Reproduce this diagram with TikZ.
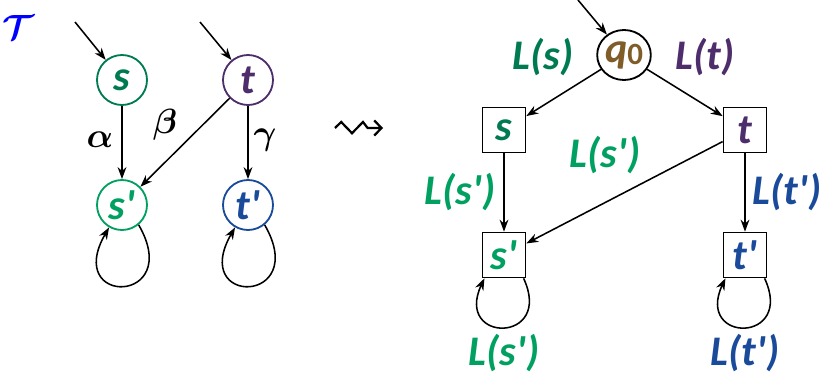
\documentclass[tikz,border=0pt]{standalone}
\usepackage{amsmath}
\usepackage{amssymb}
\usepackage{fontspec}
\setsansfont{Carlito}
\usepackage{xcolor}
\definecolor{sgreen}{RGB}{0,122,80}
\definecolor{spgreen}{RGB}{0,160,96}
\definecolor{tpurple}{RGB}{77,45,107}
\definecolor{tpblue}{RGB}{26,74,154}
\definecolor{qbrown}{RGB}{128,92,40}
\definecolor{tblue}{RGB}{0,0,255}
\usepackage{tikz}
\usetikzlibrary{arrows.meta}
\usetikzlibrary{shapes.geometric}

\newcommand{\pr}{\textquotesingle}
\tikzset{
  lbl/.style={font=\sffamily\bfseries\itshape\fontsize{30}{32}\selectfont},
  greek/.style={font=\fontsize{30}{32}\selectfont},
  state/.style={circle,draw,line width=1.3pt,minimum size=1.25cm,inner sep=0pt,lbl},
  box/.style={rectangle,draw,line width=1.2pt,minimum width=1.075cm,minimum height=1.125cm,inner sep=0pt,lbl},
  trans/.style={-{Stealth[length=3mm,width=2.2mm]},line width=1.1pt},
}

\begin{document}
\begin{tikzpicture}
        \useasboundingbox (0cm,0cm) rectangle (21cm,-9.35cm);
        \node[greek,text=tblue,font=\fontsize{34}{34}\selectfont] (T) at (0.45cm,-0.7cm) {\(\boldsymbol{\mathcal{T}}\)};
        \node[state,draw=sgreen,text=sgreen] (s) at (3.05cm,-2cm) {s};
        \node[state,draw=tpurple,text=tpurple] (t) at (6.2cm,-2cm) {t};
        \node[state,draw=spgreen,text=spgreen] (sp) at (3.05cm,-5.125cm) {s\pr};
        \node[state,draw=tpblue,text=tpblue] (tp) at (6.2cm,-5.125cm) {t\pr};
        \coordinate (s0) at (1.875cm,-0.55cm);
        \coordinate (t0) at (5cm,-0.55cm);
        \draw[trans] (s0) -- (s);
        \draw[trans] (t0) -- (t);
        \draw[trans] (s) -- (sp);
        \draw[trans] (t) -- (sp);
        \draw[trans] (t) -- (tp);
        \foreach \n in {sp,tp}
          \draw[trans] (\n.-50) .. controls +(-60:2.3cm) and +(-120:2.3cm) .. (\n.-120);
        \node[greek] (alpha) at (2.5cm,-3.5cm) {\(\boldsymbol{\alpha}\)};
        \node[greek] (beta) at (4.125cm,-3.125cm) {\(\boldsymbol{\beta}\)};
        \node[greek] (gamma) at (6.625cm,-3.5cm) {\(\boldsymbol{\gamma}\)};
        \draw[line width=1.6pt,line join=miter,-{Straight Barb[length=1.8mm,width=3.8mm]}]
          (8.375cm,-3.2cm) -- (8.53cm,-3.05cm) -- (8.8cm,-3.33cm) -- (9.075cm,-3.05cm) -- (9.19cm,-3.2cm) -- (9.575cm,-3.2cm);
        \node[ellipse,draw,line width=1.3pt,minimum width=1.3cm,minimum height=1.25cm,inner sep=0pt,lbl,text=qbrown] (q0) at (15.6cm,-1.375cm) {q\raisebox{-0.06em}{\upshape\fontsize{22}{22}\selectfont 0}};
        \node[box,text=sgreen] (bs) at (12.6cm,-3.25cm) {s};
        \node[box,text=tpurple] (bt) at (18.625cm,-3.25cm) {t};
        \node[box,text=spgreen] (bsp) at (12.6cm,-6.375cm) {s\pr};
        \node[box,text=tpblue] (btp) at (18.625cm,-6.375cm) {t\pr};
        \coordinate (q00) at (14.45cm,0cm);
        \draw[trans] (q00) -- (q0);
        \draw[trans] (q0) -- (bs);
        \draw[trans] (q0) -- (bt);
        \draw[trans] (bs) -- (bsp);
        \draw[trans] (bt) -- (bsp);
        \draw[trans] (bt) -- (btp);
        \foreach \n in {bsp,btp}
          \draw[trans] (\n.-50) .. controls +(-65:1.8cm) and +(-115:1.8cm) .. (\n.-130);
        \node[lbl,text=sgreen] (Ls) at (13.575cm,-1.425cm) {L(s)};
        \node[lbl,text=tpurple] (Lt) at (17.625cm,-1.425cm) {L(t)};
        \node[lbl,text=spgreen] (Lsp1) at (11.5cm,-4.8cm) {L(s\pr)};
        \node[lbl,text=spgreen] (Lsp2) at (15.125cm,-3.875cm) {L(s\pr)};
        \node[lbl,text=tpblue] (Ltp1) at (19.675cm,-4.8cm) {L(t\pr)};
        \node[lbl,text=spgreen] (Lsp3) at (12.6cm,-8.825cm) {L(s\pr)};
        \node[lbl,text=tpblue] (Ltp2) at (18.625cm,-8.825cm) {L(t\pr)};
      \end{tikzpicture}
\end{document}
